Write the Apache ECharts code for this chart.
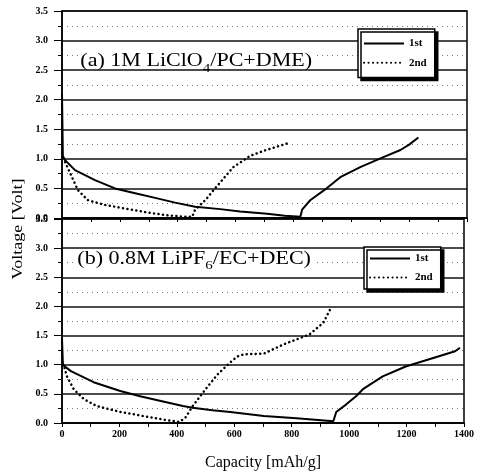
<!DOCTYPE html>
<html>
<head>
<meta charset="utf-8">
<script src="https://cdn.jsdelivr.net/npm/echarts/dist/echarts.min.js"></script>
<style>
  body { margin: 0; background: #fff; }
  .chart { width: 477px; height: 472px; }
</style>
</head>
<body>
<div class="chart"></div>
<script>
// (a) 1M LiClO4/PC+DME  [capacity mAh/g, voltage V]
const firstA = [[0, 2.1], [3, 1.05], [10, 0.98], [45, 0.81], [114, 0.64], [183, 0.5], [253, 0.42], [322, 0.34],
  [391, 0.26], [460, 0.19], [547, 0.15], [616, 0.11], [709, 0.07], [770, 0.04], [824, 0.02], [830, 0.14],
  [858, 0.3], [917, 0.51], [962, 0.69], [1031, 0.86], [1111, 1.03], [1170, 1.15], [1200, 1.24], [1232, 1.36]];
const secondA = [[0, 1.0], [10, 0.95], [28, 0.76], [55, 0.47], [90, 0.3], [149, 0.22], [218, 0.16], [287, 0.1],
  [356, 0.05], [425, 0.02], [450, 0.02], [460, 0.14], [495, 0.3], [522, 0.46], [592, 0.86], [650, 1.05],
  [700, 1.14], [778, 1.26]];
// (b) 0.8M LiPF6/EC+DEC
const firstB = [[0, 1.45], [3, 1.02], [7, 0.98], [31, 0.89], [110, 0.7], [203, 0.55], [272, 0.46], [352, 0.37],
  [421, 0.29], [455, 0.26], [524, 0.22], [586, 0.19], [703, 0.12], [817, 0.08], [945, 0.03], [955, 0.19],
  [990, 0.32], [1024, 0.46], [1048, 0.58], [1117, 0.8], [1197, 0.97], [1276, 1.09], [1369, 1.23], [1386, 1.29]];
const secondB = [[0, 1.0], [7, 0.98], [17, 0.8], [41, 0.58], [76, 0.41], [121, 0.29], [203, 0.19], [283, 0.12],
  [362, 0.05], [410, 0.02], [431, 0.1], [455, 0.29], [500, 0.58], [541, 0.83], [586, 1.04], [610, 1.14],
  [634, 1.18], [703, 1.19], [772, 1.35], [862, 1.52], [910, 1.72], [938, 1.99]];

const cycleNames = ['1st', '2nd'];
const panelTitles = ['(a) 1M LiClO{s|4}/PC+DME)', '(b) 0.8M LiPF{s|6}/EC+DEC)'];

window.onload = function () {
  const myChart = echarts.init(document.querySelector('.chart'));
  const serif = 'Liberation Serif, Times New Roman, serif';

  function makeX(i) {
    return {
      type: 'value', gridIndex: i, min: 0, max: 1400, interval: 200,
      axisLine: { lineStyle: { color: '#000', width: 1.5 } },
      axisTick: { length: 4, lineStyle: { color: '#000' } },
      minorTick: { show: true, splitNumber: 2, length: 4, lineStyle: { color: '#000' } },
      splitLine: { show: false },
      axisLabel: {
        show: i === 1, color: '#000', fontFamily: serif, fontWeight: 'bold', fontSize: 10, margin: 6,
        formatter: (v) => String(v)
      },
      name: i === 1 ? 'Capacity [mAh/g]' : '',
      nameLocation: 'middle', nameGap: 32,
      nameTextStyle: { fontFamily: serif, fontSize: 16, color: '#000' }
    };
  }
  function makeY(i) {
    return {
      type: 'value', gridIndex: i, min: 0, max: 3.5, interval: 0.5,
      axisLine: { lineStyle: { color: '#000', width: 1.5 } },
      axisTick: { length: 8, lineStyle: { color: '#000' } },
      minorTick: { show: true, splitNumber: 2, length: 4, lineStyle: { color: '#000' } },
      splitLine: { show: true, lineStyle: { color: '#111', width: 1.5 } },
      minorSplitLine: { show: true, lineStyle: { color: '#777', width: 1, type: [1, 4] } },
      axisLabel: {
        color: '#000', fontFamily: serif, fontWeight: 'bold', fontSize: 10, margin: 14,
        formatter: (v) => v.toFixed(1)
      }
    };
  }
  function makeLine(name, data, i, dotted) {
    return {
      name: name, type: 'line', xAxisIndex: i, yAxisIndex: i, data: data,
      symbol: 'none', silent: true, animation: false,
      lineStyle: dotted
        ? { color: '#000', width: 2.5, type: [0.1, 4.4], cap: 'round' }
        : { color: '#000', width: 2 },
      itemStyle: { color: '#000' }
    };
  }
  function makeLegend(left, top, pad, h) {
    return {
      data: cycleNames, orient: 'vertical', left: left, top: top,
      padding: pad, itemWidth: 40, itemHeight: h, itemGap: 8,
      itemStyle: { opacity: 0 },
      backgroundColor: '#fff', borderColor: '#000', borderWidth: 1.5,
      shadowColor: '#000', shadowBlur: 0, shadowOffsetX: 3, shadowOffsetY: 3,
      textStyle: { fontFamily: serif, fontWeight: 'bold', fontSize: 11, color: '#000' }
    };
  }
  // panel caption, stretched a little like the scanned original
  function makeCaption(text, x, y) {
    return {
      type: 'text', x: x, y: y, scaleX: 1.16, z: 5,
      style: {
        text: text, font: '19px ' + serif, fill: '#000',
        align: 'left', verticalAlign: 'bottom', lineHeight: 14,
        backgroundColor: '#fff', padding: [2, 2, 0, 2],
        rich: { s: { font: '13px ' + serif, fill: '#000', lineHeight: 14, padding: [14, 0, 0, 0] } }
      }
    };
  }

  const option = {
    backgroundColor: '#fff',
    animation: false,
    grid: [
      { left: 62, top: 11, width: 405, height: 207, show: true, borderColor: '#000', borderWidth: 1.5 },
      { left: 62, top: 219, width: 405, height: 205, show: true, borderColor: '#000', borderWidth: 1.5 }
    ],
    legend: [makeLegend(358, 29, [9, 8, 9, 5], 14), makeLegend(364, 247, [6, 8, 6, 5], 12)],
    xAxis: [makeX(0), makeX(1)],
    yAxis: [makeY(0), makeY(1)],
    graphic: [
      makeCaption(panelTitles[0], 78, 68.5),
      makeCaption(panelTitles[1], 75, 266),
      {
        type: 'text', x: 18, y: 229, rotation: Math.PI / 2, scaleX: 1.2,
        style: { text: 'Voltage [Volt]', font: '15px ' + serif, fill: '#000', align: 'center', verticalAlign: 'middle' }
      }
    ],
    series: [
      makeLine(cycleNames[0], firstA, 0, false),
      makeLine(cycleNames[1], secondA, 0, true),
      makeLine(cycleNames[0], firstB, 1, false),
      makeLine(cycleNames[1], secondB, 1, true)
    ]
  };
  myChart.setOption(option);
};
</script>
</body>
</html>
